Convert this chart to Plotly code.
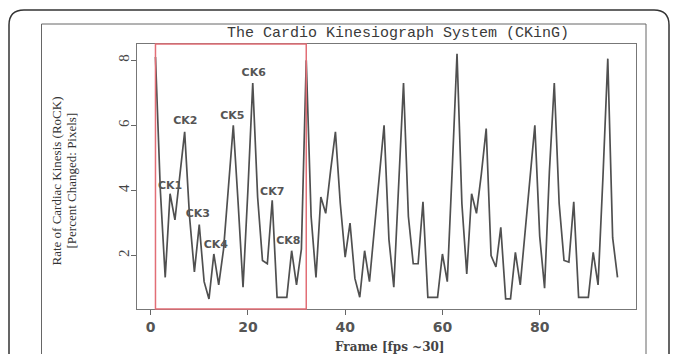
import plotly.graph_objects as go

# ---- data ----
frames = list(range(1, 97))
rock = [8.1, 4.0, 1.33, 3.9, 3.1, 4.5, 5.8, 3.2, 1.5, 2.95,
        1.2, 0.67, 2.05, 1.1, 2.2, 4.1, 6.0, 3.6, 1.03, 4.0,
        7.3, 3.8, 1.85, 1.75, 3.7, 0.72, 0.72, 0.72, 2.15, 1.1,
        2.2, 8.0, 3.2, 1.33, 3.8, 3.3, 4.6, 5.8, 3.6, 1.95,
        3.0, 1.3, 0.72, 2.15, 1.2, 2.9, 4.4, 6.0, 2.5, 1.03,
        4.3, 7.3, 3.2, 1.75, 1.75, 3.65, 0.72, 0.72, 0.72, 2.05,
        1.2, 4.6, 8.2, 3.6, 1.44, 3.9, 3.3, 4.5, 5.9, 2.0,
        1.65, 2.87, 0.67, 0.67, 2.1, 1.1, 2.7, 4.4, 6.0, 2.6,
        1.0, 4.6, 7.3, 3.6, 1.85, 1.8, 3.65, 0.72, 0.72, 0.72,
        2.1, 1.1, 4.4, 8.05, 2.55, 1.33]

ck_labels = ["CK1", "CK2", "CK3", "CK4", "CK5", "CK6", "CK7", "CK8"]
ck_x = [4.0, 7.15, 9.7, 13.4, 16.8, 21.2, 25.0, 28.3]
ck_y = [4.12, 6.14, 3.28, 2.31, 6.28, 7.61, 3.95, 2.45]

box_start, box_end = 1, 32
x_ticks = [0, 20, 40, 60, 80]
y_ticks = [2, 4, 6, 8]

title = "The Cardio Kinesiograph System (CKinG)"
ytitle1 = "Rate of Cardiac Kinesis (RoCK)"
ytitle2 = "[Percent Changed: Pixels]"
xtitle = "Frame [fps ~30]"

# ---- figure ----
W, H = 673, 354
L, R, T, B = 137, 636, 44, 309
pw, ph = R - L, B - T


def px(x):
    return (x - L) / pw


def py(y):
    return (B - y) / ph


fig = go.Figure()
fig.add_trace(go.Scatter(x=frames, y=rock, mode="lines",
                         line=dict(color="#505050", width=1.7),
                         hoverinfo="skip", showlegend=False))

fig.add_trace(go.Scatter(x=ck_x, y=ck_y, mode="text", text=ck_labels,
                         textfont=dict(family="DejaVu Sans", size=11, color="#555555", weight="bold"),
                         hoverinfo="skip", showlegend=False))

shapes = []
# red highlight box
shapes.append(dict(type="rect", xref="x", yref="paper", x0=box_start, x1=box_end, y0=0, y1=1,
                   line=dict(color="rgb(226,110,118)", width=1.5), layer="above"))
# outer rounded frame
r = 15
lx, rx_, ty, by = 9, 669, 10, 380
path = (f"M {px(lx)},{py(by)} L {px(lx)},{py(ty + r)} Q {px(lx)},{py(ty)} {px(lx + r)},{py(ty)} "
        f"L {px(rx_ - r)},{py(ty)} Q {px(rx_)},{py(ty)} {px(rx_)},{py(ty + r)} L {px(rx_)},{py(by)}")
shapes.append(dict(type="path", xref="paper", yref="paper", path=path,
                   line=dict(color="#333333", width=1.5)))
# inner frame
shapes.append(dict(type="path", xref="paper", yref="paper",
                   path=f"M {px(41.5)},{py(380)} L {px(41.5)},{py(24)} L {px(646)},{py(24)} L {px(646)},{py(380)}",
                   line=dict(color="#666666", width=1)))

annotations = [
    dict(text=title, x=px(398), y=py(33), xref="paper", yref="paper", showarrow=False,
         xanchor="center", yanchor="middle",
         font=dict(family="Liberation Mono", size=15, color="#3a3a3a")),
    dict(text=ytitle1, x=px(55.5), y=py(181), xref="paper", yref="paper", showarrow=False,
         textangle=-90, xanchor="center", yanchor="middle",
         font=dict(family="Liberation Serif", size=13, color="#333333")),
    dict(text=ytitle2, x=px(70.5), y=py(181), xref="paper", yref="paper", showarrow=False,
         textangle=-90, xanchor="center", yanchor="middle",
         font=dict(family="Liberation Serif", size=13, color="#333333")),
    dict(text=xtitle, x=px(390), y=py(347), xref="paper", yref="paper", showarrow=False,
         xanchor="center", yanchor="middle",
         font=dict(family="DejaVu Serif", size=12, color="#444444", weight="bold")),
]

fig.update_layout(
    width=W, height=H,
    margin=dict(l=L, r=W - R, t=T, b=H - B, pad=0),
    paper_bgcolor="white", plot_bgcolor="white",
    shapes=shapes, annotations=annotations,
    showlegend=False,
)
fig.update_xaxes(range=[-2.8, 99.8], tickvals=x_ticks, ticktext=[str(v) for v in x_ticks],
                 ticks="outside", ticklen=5, tickcolor="#666666", tickwidth=1,
                 showline=True, mirror=True, linecolor="#777777", linewidth=1,
                 showgrid=False, zeroline=False,
                 tickfont=dict(family="DejaVu Sans", size=14, color="#555555", weight="bold"))
fig.update_yaxes(range=[0.36, 8.5], tickvals=y_ticks, ticktext=[str(v) for v in y_ticks],
                 ticks="outside", ticklen=5, tickcolor="#666666", tickwidth=1,
                 showline=True, mirror=True, linecolor="#777777", linewidth=1,
                 showgrid=False, zeroline=False, tickangle=-90, ticklabelstandoff=-4,
                 tickfont=dict(family="Liberation Serif", size=15, color="#444444"))

fig.write_html("out.html", config={"displayModeBar": False},
               post_script="document.body.style.margin='0';document.body.style.overflow='hidden';")
